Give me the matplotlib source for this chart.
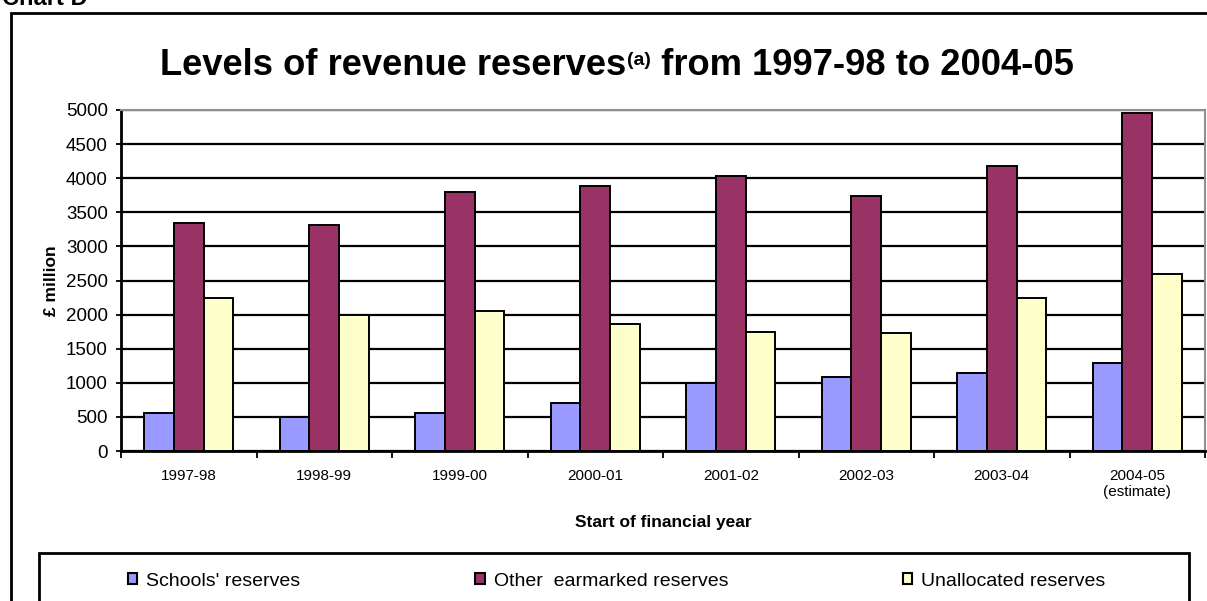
import matplotlib
matplotlib.use("Agg")
import matplotlib.pyplot as plt
from matplotlib.patches import Rectangle, Patch
import numpy as np

plt.rcParams['font.family'] = ['Liberation Sans', 'DejaVu Sans']

categories = ["1997-98", "1998-99", "1999-00", "2000-01", "2001-02", "2002-03", "2003-04", "2004-05\n(estimate)"]
schools = [560, 500, 560, 700, 1000, 1090, 1150, 1290]
other_earmarked = [3350, 3320, 3800, 3880, 4030, 3740, 4180, 4950]
unallocated = [2240, 2000, 2060, 1860, 1740, 1730, 2240, 2590]
series_names = ["Schools' reserves", "Other  earmarked reserves", "Unallocated reserves"]
colors = ["#9999FF", "#993366", "#FFFFCC"]
yticks = list(range(0, 5001, 500))
title_main = "Levels of revenue reserves"
title_sup = "(a)"
title_rest = " from 1997-98 to 2004-05"

W, H = 1207, 601
fig = plt.figure(figsize=(W / 100, H / 100), dpi=100)
ax = fig.add_axes([121 / W, 1 - 451 / H, (1205 - 121) / W, (451 - 110) / H])

x = np.arange(len(categories))
bw = 0.22
for i, (vals, c) in enumerate(zip([schools, other_earmarked, unallocated], colors)):
    ax.bar(x + (i - 1) * bw, vals, bw, color=c, edgecolor='black', linewidth=1.4, zorder=3)

ax.set_xlim(-0.5, len(categories) - 0.5)
ax.set_ylim(0, 5000)
ax.set_yticks(yticks)
ax.set_yticklabels([str(v) for v in yticks], fontsize=13.5)
ax.yaxis.grid(True, color='black', linewidth=1.6, zorder=0)
ax.set_axisbelow(True)
ax.set_xticks(x)
ax.set_xticklabels(categories, fontsize=11, linespacing=1.15)
ax.tick_params(axis='x', length=0, pad=13)
ax.set_xticks(np.arange(len(categories) + 1) - 0.5, minor=True)
ax.tick_params(axis='x', which='minor', length=5, width=1.3, direction='out')
ax.tick_params(axis='y', length=7, width=1.3, direction='inout', pad=6)

for s in ['left', 'bottom']:
    ax.spines[s].set_linewidth(2)
    ax.spines[s].set_color('black')
for s in ['top', 'right']:
    ax.spines[s].set_linewidth(1.5)
    ax.spines[s].set_color('#909090')

ax.set_ylabel("£ million", fontsize=12.5, fontweight='bold', labelpad=5)
ax.set_xlabel("Start of financial year", fontsize=12.5, fontweight='bold', labelpad=12)

# title composed of main text, superscript and rest
renderer = fig.canvas.get_renderer()
yb = 1 - 75 / H
t1 = fig.text(0, yb, title_main, fontsize=26.2, fontweight='bold', va='baseline', ha='left')
t2 = fig.text(0, yb + 10 / H, title_sup, fontsize=14, fontweight='bold', va='baseline', ha='left')
t3 = fig.text(0, yb, title_rest, fontsize=26.2, fontweight='bold', va='baseline', ha='left')
w1 = t1.get_window_extent(renderer).width
w2 = t2.get_window_extent(renderer).width
w3 = t3.get_window_extent(renderer).width
total = w1 + w2 + 1 + w3
x0 = 617 - total / 2
t1.set_x(x0 / W)
t2.set_x((x0 + w1 + 1) / W)
t3.set_x((x0 + w1 + 1 + w2) / W)

fig.text(2 / W, 1 - 5 / H, "Chart D", ha='left', va='baseline', fontsize=17, fontweight='bold')

# outer frame
fig.patches.append(Rectangle((11 / W, -0.1), 1.2, 1 - 13 / H + 0.1, transform=fig.transFigure,
                             fill=False, edgecolor='black', linewidth=2))
# legend box
fig.patches.append(Rectangle((39 / W, -0.1), (1189 - 39) / W, 1 - 553 / H + 0.1, transform=fig.transFigure,
                             fill=False, edgecolor='black', linewidth=2))
handles = [Patch(facecolor=c, edgecolor='black', linewidth=1.5) for c in colors]
fig.legend(handles, series_names, loc='center left', bbox_to_anchor=(128 / W, 1 - 581 / H), ncol=3,
           frameon=False, fontsize=14, handlelength=0.47, handleheight=0.47, handletextpad=0.47,
           columnspacing=9.0, borderpad=0, borderaxespad=0)

fig.savefig("out.png", dpi=100)
